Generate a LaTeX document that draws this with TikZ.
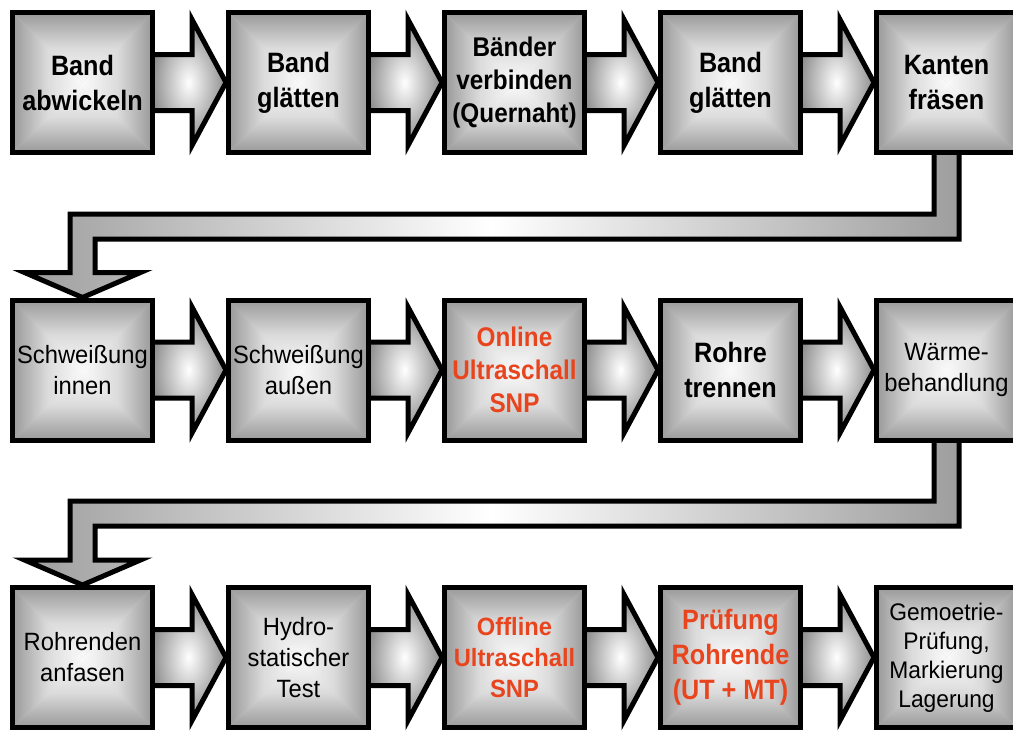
\documentclass[tikz,border=0pt]{standalone}
\usepackage{fontspec}
\newfontfamily\narrowbf[FakeStretch=0.9]{Liberation Sans}
\newfontfamily\narrowrm[FakeStretch=0.95]{Liberation Sans}
\usetikzlibrary{calc}
\pgfdeclarelayer{bg}
\pgfsetlayers{bg,main}
\definecolor{edgegray}{gray}{0.6}
\definecolor{midgray}{gray}{0.86}
\definecolor{centergray}{gray}{0.98}
\definecolor{basegray}{gray}{0.8}
\definecolor{redtext}{RGB}{232,69,30}
\definecolor{arrowdark}{gray}{0.55}
\definecolor{conngray}{gray}{0.62}
\tikzset{
  box/.style={draw=black, line width=5pt, minimum width=140pt, minimum height=140pt,
    inner sep=0pt, align=center, text=black,
    path picture={
      \fill[basegray] (path picture bounding box.north west) rectangle (path picture bounding box.south east);
      \shade[top color=edgegray, bottom color=centergray, middle color=midgray]
        (path picture bounding box.north west) -- (path picture bounding box.north east)
        -- (path picture bounding box.center) -- cycle;
      \shade[bottom color=edgegray, top color=centergray, middle color=midgray]
        (path picture bounding box.south west) -- (path picture bounding box.south east)
        -- (path picture bounding box.center) -- cycle;
      \shade[left color=edgegray, right color=centergray, middle color=midgray]
        (path picture bounding box.north west) -- (path picture bounding box.south west)
        -- (path picture bounding box.center) -- cycle;
      \shade[right color=edgegray, left color=centergray, middle color=midgray]
        (path picture bounding box.north east) -- (path picture bounding box.south east)
        -- (path picture bounding box.center) -- cycle;
    }},
  bigbf/.style={font=\narrowbf\bfseries\fontsize{28}{35}\selectfont},
  midbf/.style={font=\narrowbf\bfseries\fontsize{27}{33}\selectfont},
  offbf/.style={font=\narrowrm\bfseries\fontsize{25}{31}\selectfont},
  plain/.style={font=\narrowrm\fontsize{25}{31}\selectfont},
  small/.style={font=\narrowrm\fontsize{24}{29}\selectfont},
  redt/.style={text=redtext},
  flowarrow/.style={draw=black, line width=5pt, line join=miter, inner color=white, outer color=arrowdark},
  conn/.style={draw=black, line width=5pt, line join=miter, left color=conngray, right color=conngray, middle color=white},
}
\newcommand{\rowarrow}[2]{%
  \path[flowarrow] ($(#1.east)+(-4,-28)$) -- ($(#1.east)+(37,-28)$) -- ($(#1.east)+(37,-63)$)
    -- (#2.west) -- ($(#1.east)+(37,63)$) -- ($(#1.east)+(37,28)$) -- ($(#1.east)+(-4,28)$) -- cycle;}
\newcommand{\turnarrow}[3]{% from, to, band center offset below from.south
  \coordinate (m) at ($(#1.south)+(0,#3)$);
  \coordinate (n) at (#2.north |- m);
  \path[conn] ($(#1.south)+(12.5,-4)$) -- ($(m)+(12.5,12.5)$) -- ($(n)+(12.5,12.5)$)
    -- ($(#2.north)+(12.5,-25)$) -- ($(#2.north)+(58,-25)$) -- (#2.north)
    -- ($(#2.north)+(-58,-25)$) -- ($(#2.north)+(-12.5,-25)$) -- ($(n)+(-12.5,-12.5)$)
    -- ($(m)+(-12.5,-12.5)$) -- ($(#1.south)+(-12.5,-4)$) -- cycle;}
\begin{document}
\begin{tikzpicture}[x=1pt, y=-1pt]
\clip (0,0) rectangle (1013,731);
\begin{pgfonlayer}{bg}
  \fill[white] (0,0) rectangle (1013,731);
\end{pgfonlayer}
% row 1
\node[box, bigbf] (b1) at (82.5,82.5) {Band\\abwickeln};
\node[box, bigbf] (b2) at (298.5,82.5) {Band\\glätten};
\node[box, midbf] (b3) at (514.5,82.5) {Bänder\\verbinden\\(Quernaht)};
\node[box, bigbf] (b4) at (730.5,82.5) {Band\\glätten};
\node[box, bigbf] (b5) at (946.5,82.5) {Kanten\\fräsen};
% row 2
\node[box, plain] (b6) at (82.5,370) {Schweißung\\innen};
\node[box, plain] (b7) at (298.5,370) {Schweißung\\außen};
\node[box, midbf, redt] (b8) at (514.5,370) {Online\\Ultraschall\\SNP};
\node[box, bigbf] (b9) at (730.5,370) {Rohre\\trennen};
\node[box, plain] (b10) at (946.5,370) {Wärme-\\behandlung};
% row 3
\node[box, plain] (b11) at (82.5,657.5) {Rohrenden\\anfasen};
\node[box, plain] (b12) at (298.5,657.5) {Hydro-\\statischer\\Test};
\node[box, offbf, redt] (b13) at (514.5,657.5) {Offline\\Ultraschall\\SNP};
\node[box, bigbf, redt] (b14) at (730.5,657.5) {Prüfung\\Rohrende\\(UT + MT)};
\node[box, small] (b15) at (946.5,657.5) {Gemoetrie-\\Prüfung,\\Markierung\\Lagerung};
\begin{pgfonlayer}{bg}
  \rowarrow{b1}{b2}\rowarrow{b2}{b3}\rowarrow{b3}{b4}\rowarrow{b4}{b5}
  \rowarrow{b6}{b7}\rowarrow{b7}{b8}\rowarrow{b8}{b9}\rowarrow{b9}{b10}
  \rowarrow{b11}{b12}\rowarrow{b12}{b13}\rowarrow{b13}{b14}\rowarrow{b14}{b15}
  \turnarrow{b5}{b6}{71.5}
  \turnarrow{b10}{b11}{71}
\end{pgfonlayer}
\end{tikzpicture}
\end{document}
